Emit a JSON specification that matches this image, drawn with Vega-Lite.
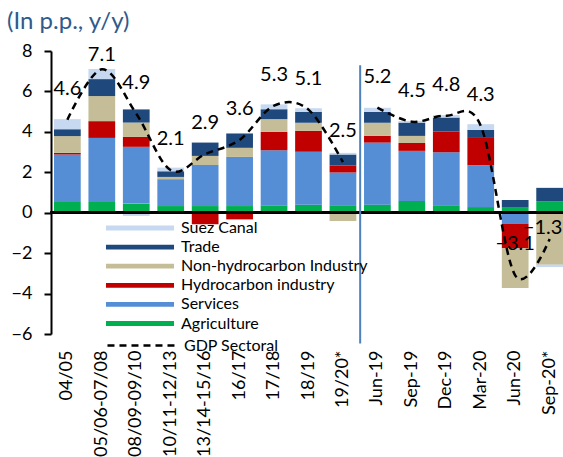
{
  "$schema": "https://vega.github.io/schema/vega-lite/v6.json",
  "width": 509,
  "height": 283,
  "autosize": {"type": "none"},
  "padding": {"left": 54, "top": 51, "right": 0, "bottom": 123},
  "config": {"font": "Lato", "view": {"stroke": null}, "axis": {"grid": false}},
  "title": {"text": "(In p.p., y/y)", "anchor": "start", "fontSize": 24, "fontWeight": "normal", "color": "#2f5b8c", "font": "Lato", "baseline": "alphabetic", "offset": 11, "dy": 22, "dx": -4},
  "datasets": {
    "bars": [
      {"cat": "04/05", "sector": "Agriculture", "value": 0.53},
      {"cat": "04/05", "sector": "Services", "value": 2.35},
      {"cat": "04/05", "sector": "Hydrocarbon industry", "value": 0.08},
      {"cat": "04/05", "sector": "Non-hydrocarbon Industry", "value": 0.83},
      {"cat": "04/05", "sector": "Trade", "value": 0.34},
      {"cat": "04/05", "sector": "Suez Canal", "value": 0.5},
      {"cat": "05/06-07/08", "sector": "Agriculture", "value": 0.53},
      {"cat": "05/06-07/08", "sector": "Services", "value": 3.17},
      {"cat": "05/06-07/08", "sector": "Hydrocarbon industry", "value": 0.83},
      {"cat": "05/06-07/08", "sector": "Non-hydrocarbon Industry", "value": 1.24},
      {"cat": "05/06-07/08", "sector": "Trade", "value": 0.84},
      {"cat": "05/06-07/08", "sector": "Suez Canal", "value": 0.5},
      {"cat": "08/09-09/10", "sector": "Agriculture", "value": 0.45},
      {"cat": "08/09-09/10", "sector": "Services", "value": 2.81},
      {"cat": "08/09-09/10", "sector": "Hydrocarbon industry", "value": 0.49},
      {"cat": "08/09-09/10", "sector": "Non-hydrocarbon Industry", "value": 0.71},
      {"cat": "08/09-09/10", "sector": "Trade", "value": 0.65},
      {"cat": "08/09-09/10", "sector": "Suez Canal", "value": -0.16},
      {"cat": "10/11-12/13", "sector": "Agriculture", "value": 0.33},
      {"cat": "10/11-12/13", "sector": "Services", "value": 1.33},
      {"cat": "10/11-12/13", "sector": "Hydrocarbon industry", "value": -0.05},
      {"cat": "10/11-12/13", "sector": "Non-hydrocarbon Industry", "value": 0.11},
      {"cat": "10/11-12/13", "sector": "Trade", "value": 0.28},
      {"cat": "10/11-12/13", "sector": "Suez Canal", "value": 0.18},
      {"cat": "13/14-15/16", "sector": "Agriculture", "value": 0.33},
      {"cat": "13/14-15/16", "sector": "Services", "value": 2.03},
      {"cat": "13/14-15/16", "sector": "Hydrocarbon industry", "value": -0.57},
      {"cat": "13/14-15/16", "sector": "Non-hydrocarbon Industry", "value": 0.45},
      {"cat": "13/14-15/16", "sector": "Trade", "value": 0.66},
      {"cat": "16/17", "sector": "Agriculture", "value": 0.33},
      {"cat": "16/17", "sector": "Services", "value": 2.43},
      {"cat": "16/17", "sector": "Hydrocarbon industry", "value": -0.33},
      {"cat": "16/17", "sector": "Non-hydrocarbon Industry", "value": 0.45},
      {"cat": "16/17", "sector": "Trade", "value": 0.71},
      {"cat": "17/18", "sector": "Agriculture", "value": 0.35},
      {"cat": "17/18", "sector": "Services", "value": 2.74},
      {"cat": "17/18", "sector": "Hydrocarbon industry", "value": 0.91},
      {"cat": "17/18", "sector": "Non-hydrocarbon Industry", "value": 0.63},
      {"cat": "17/18", "sector": "Trade", "value": 0.49},
      {"cat": "17/18", "sector": "Suez Canal", "value": 0.24},
      {"cat": "18/19", "sector": "Agriculture", "value": 0.4},
      {"cat": "18/19", "sector": "Services", "value": 2.61},
      {"cat": "18/19", "sector": "Hydrocarbon industry", "value": 1.04},
      {"cat": "18/19", "sector": "Non-hydrocarbon Industry", "value": 0.4},
      {"cat": "18/19", "sector": "Trade", "value": 0.53},
      {"cat": "18/19", "sector": "Suez Canal", "value": 0.19},
      {"cat": "19/20*", "sector": "Agriculture", "value": 0.37},
      {"cat": "19/20*", "sector": "Services", "value": 1.62},
      {"cat": "19/20*", "sector": "Hydrocarbon industry", "value": 0.34},
      {"cat": "19/20*", "sector": "Non-hydrocarbon Industry", "value": -0.41},
      {"cat": "19/20*", "sector": "Trade", "value": 0.55},
      {"cat": "19/20*", "sector": "Suez Canal", "value": 0.08},
      {"cat": "Jun-19", "sector": "Agriculture", "value": 0.4},
      {"cat": "Jun-19", "sector": "Services", "value": 3.07},
      {"cat": "Jun-19", "sector": "Hydrocarbon industry", "value": 0.33},
      {"cat": "Jun-19", "sector": "Non-hydrocarbon Industry", "value": 0.65},
      {"cat": "Jun-19", "sector": "Trade", "value": 0.54},
      {"cat": "Jun-19", "sector": "Suez Canal", "value": 0.2},
      {"cat": "Sep-19", "sector": "Agriculture", "value": 0.58},
      {"cat": "Sep-19", "sector": "Services", "value": 2.48},
      {"cat": "Sep-19", "sector": "Hydrocarbon industry", "value": 0.39},
      {"cat": "Sep-19", "sector": "Non-hydrocarbon Industry", "value": 0.35},
      {"cat": "Sep-19", "sector": "Trade", "value": 0.66},
      {"cat": "Sep-19", "sector": "Suez Canal", "value": 0.08},
      {"cat": "Dec-19", "sector": "Agriculture", "value": 0.37},
      {"cat": "Dec-19", "sector": "Services", "value": 2.62},
      {"cat": "Dec-19", "sector": "Hydrocarbon industry", "value": 1.03},
      {"cat": "Dec-19", "sector": "Trade", "value": 0.69},
      {"cat": "Dec-19", "sector": "Suez Canal", "value": 0.12},
      {"cat": "Mar-20", "sector": "Agriculture", "value": 0.28},
      {"cat": "Mar-20", "sector": "Services", "value": 2.07},
      {"cat": "Mar-20", "sector": "Hydrocarbon industry", "value": 1.39},
      {"cat": "Mar-20", "sector": "Trade", "value": 0.36},
      {"cat": "Mar-20", "sector": "Suez Canal", "value": 0.28},
      {"cat": "Jun-20", "sector": "Agriculture", "value": 0.25},
      {"cat": "Jun-20", "sector": "Services", "value": -0.54},
      {"cat": "Jun-20", "sector": "Hydrocarbon industry", "value": -1.22},
      {"cat": "Jun-20", "sector": "Non-hydrocarbon Industry", "value": -1.97},
      {"cat": "Jun-20", "sector": "Trade", "value": 0.38},
      {"cat": "Sep-20*", "sector": "Agriculture", "value": 0.57},
      {"cat": "Sep-20*", "sector": "Hydrocarbon industry", "value": -0.05},
      {"cat": "Sep-20*", "sector": "Non-hydrocarbon Industry", "value": -2.52},
      {"cat": "Sep-20*", "sector": "Trade", "value": 0.66},
      {"cat": "Sep-20*", "sector": "Suez Canal", "value": -0.12}
    ],
    "gdp": [
      {"cat": "04/05", "gdp": 4.6, "period": "FY", "series": "GDP Sectoral"},
      {"cat": "05/06-07/08", "gdp": 7.1, "period": "FY", "series": "GDP Sectoral"},
      {"cat": "08/09-09/10", "gdp": 4.9, "period": "FY", "series": "GDP Sectoral"},
      {"cat": "10/11-12/13", "gdp": 2.1, "period": "FY", "series": "GDP Sectoral"},
      {"cat": "13/14-15/16", "gdp": 2.9, "period": "FY", "series": "GDP Sectoral"},
      {"cat": "16/17", "gdp": 3.6, "period": "FY", "series": "GDP Sectoral"},
      {"cat": "17/18", "gdp": 5.3, "period": "FY", "series": "GDP Sectoral"},
      {"cat": "18/19", "gdp": 5.1, "period": "FY", "series": "GDP Sectoral"},
      {"cat": "19/20*", "gdp": 2.5, "period": "FY", "series": "GDP Sectoral"},
      {"cat": "Jun-19", "gdp": 5.2, "period": "Q", "series": "GDP Sectoral"},
      {"cat": "Sep-19", "gdp": 4.5, "period": "Q", "series": "GDP Sectoral"},
      {"cat": "Dec-19", "gdp": 4.8, "period": "Q", "series": "GDP Sectoral"},
      {"cat": "Mar-20", "gdp": 4.3, "period": "Q", "series": "GDP Sectoral"},
      {"cat": "Jun-20", "gdp": -3.1, "period": "Q", "series": "GDP Sectoral"},
      {"cat": "Sep-20*", "gdp": -1.3, "period": "Q", "series": "GDP Sectoral"}
    ]
  },
  "encoding": {
    "x": {
      "field": "cat",
      "type": "nominal",
      "scale": {
        "domain": ["04/05", "05/06-07/08", "08/09-09/10", "10/11-12/13", "13/14-15/16", "16/17", "17/18", "18/19", "19/20*", "Jun-19", "Sep-19", "Dec-19", "Mar-20", "Jun-20", "Sep-20*"],
        "paddingInner": 0.224,
        "paddingOuter": 0
      },
      "axis": {"title": null, "labelAngle": -90, "labelFontSize": 18, "labelColor": "black", "labelFont": "Lato", "domain": false, "ticks": false, "tickSize": 0, "labelPadding": 16}
    }
  },
  "layer": [
    {
      "data": {"name": "bars"},
      "transform": [
        {"calculate": "indexof(['Agriculture','Services','Hydrocarbon industry','Non-hydrocarbon Industry','Trade','Suez Canal'], datum.sector)", "as": "rank"}
      ],
      "mark": {"type": "bar"},
      "encoding": {
        "y": {
          "field": "value",
          "type": "quantitative",
          "stack": "zero",
          "scale": {"domain": [-6, 8], "nice": false},
          "axis": {"title": null, "values": [-6, -4, -2, 0, 2, 4, 6, 8], "labelFontSize": 18, "labelColor": "black", "labelFont": "Lato", "domainColor": "black", "domainWidth": 2, "tickColor": "black", "tickWidth": 2, "tickSize": 7, "labelPadding": 12, "offset": 3, "grid": false}
        },
        "color": {
          "field": "sector",
          "type": "nominal",
          "scale": {
            "domain": ["Suez Canal", "Trade", "Non-hydrocarbon Industry", "Hydrocarbon industry", "Services", "Agriculture"],
            "range": ["#c6d9f1", "#1f497d", "#c4bd97", "#c00000", "#558ed5", "#00b050"]
          },
          "legend": {"title": null, "orient": "none", "legendX": 77, "legendY": 168, "padding": 0, "symbolType": "M-3.78,-0.264H3.78V0.264H-3.78Z", "symbolSize": 324, "symbolStrokeWidth": 0, "labelFontSize": 16, "labelFont": "Lato", "labelColor": "black", "labelOffset": 32, "labelLimit": 400, "rowPadding": 2.1}
        },
        "order": {"field": "rank", "type": "quantitative"}
      }
    },
    {
      "data": {"name": "gdp"},
      "mark": {"type": "rule", "color": "black", "strokeWidth": 1.75},
      "encoding": {
        "x": {"datum": "04/05", "bandPosition": -0.13},
        "x2": {"datum": "Sep-20*", "bandPosition": 1.2},
        "y": {"datum": 0}
      }
    },
    {
      "data": {"values": [{"k": 1}]},
      "mark": {"type": "rule", "color": "#4f81bd", "strokeWidth": 2},
      "encoding": {
        "x": {"datum": "19/20*", "bandPosition": 1.144},
        "y": {"datum": 7.3},
        "y2": {"datum": -6.47}
      }
    },
    {
      "data": {"name": "gdp"},
      "mark": {"type": "line", "interpolate": "cardinal", "color": "black", "strokeWidth": 2.5},
      "encoding": {
        "y": {"field": "gdp", "type": "quantitative"},
        "detail": {"field": "period"},
        "strokeDash": {
          "field": "series",
          "type": "nominal",
          "scale": {"domain": ["GDP Sectoral"], "range": [[7, 5]]},
          "legend": {"title": null, "orient": "none", "legendX": 77, "legendY": 284, "padding": 0, "symbolType": "M-3.78,0H3.78", "symbolSize": 324, "symbolStrokeWidth": 2.5, "symbolStrokeColor": "black", "labelFontSize": 16, "labelFont": "Lato", "labelColor": "black", "labelOffset": 32}
        }
      }
    },
    {
      "data": {"name": "gdp"},
      "transform": [{"filter": "datum.cat != '05/06-07/08' && datum.cat != 'Sep-20*'"}],
      "mark": {"type": "text", "fontSize": 20, "font": "Lato", "color": "black", "dy": -31, "baseline": "middle"},
      "encoding": {"y": {"field": "gdp", "type": "quantitative"}, "text": {"field": "gdp", "type": "quantitative", "format": ".1f"}}
    },
    {
      "data": {"name": "gdp"},
      "transform": [{"filter": "datum.cat == '05/06-07/08'"}],
      "mark": {"type": "text", "fontSize": 20, "font": "Lato", "color": "black", "dy": -14, "baseline": "middle"},
      "encoding": {"y": {"field": "gdp", "type": "quantitative"}, "text": {"field": "gdp", "type": "quantitative", "format": ".1f"}}
    },
    {
      "data": {"name": "gdp"},
      "transform": [{"filter": "datum.cat == 'Sep-20*'"}],
      "mark": {"type": "text", "fontSize": 20, "font": "Lato", "color": "black", "dy": -11, "dx": -7, "baseline": "middle"},
      "encoding": {"y": {"field": "gdp", "type": "quantitative"}, "text": {"field": "gdp", "type": "quantitative", "format": ".1f"}}
    }
  ]
}
